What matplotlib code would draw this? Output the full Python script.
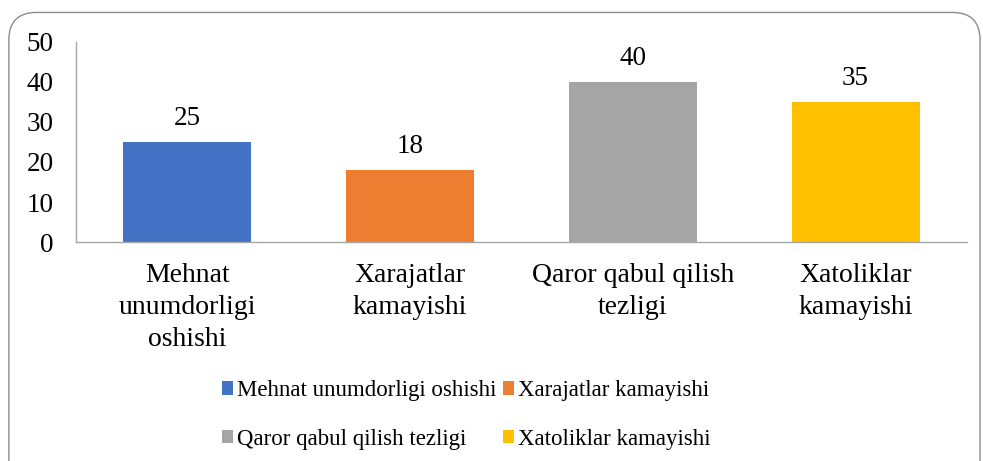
import numpy as np
import matplotlib
matplotlib.use("Agg")
from matplotlib import pyplot as plt
from matplotlib.patches import FancyBboxPatch, Patch

plt.rcParams['font.family'] = ['Liberation Serif', 'DejaVu Serif']

# data
categories = ["Mehnat unumdorligi oshishi", "Xarajatlar kamayishi",
              "Qaror qabul qilish tezligi", "Xatoliklar kamayishi"]
tick_labels = ["Mehnat\nunumdorligi\noshishi", "Xarajatlar\nkamayishi",
               "Qaror qabul qilish\ntezligi", "Xatoliklar\nkamayishi"]
values = [25, 18, 40, 35]
colors = ["#4472C4", "#ED7D31", "#A5A5A5", "#FFC000"]

fig = plt.figure(figsize=(9.83, 4.61), dpi=100)

# rounded chart border
border = FancyBboxPatch((0.009, -0.1), 0.988, 1.073,
                        boxstyle="round,pad=0,rounding_size=0.028",
                        transform=fig.transFigure, facecolor="none",
                        edgecolor="#8c8c8c", linewidth=1.0,
                        mutation_aspect=983/461, zorder=-1)
fig.patches.append(border)

ax = fig.add_axes([0.0773, 0.475, 0.9064, 0.434])
ax.patch.set_alpha(0)
x = np.arange(len(values))
bars = ax.bar(x, values, width=0.575, color=colors)
ax.set_xlim(-0.5, len(values) - 0.5)
ax.set_ylim(0, 50)
ax.set_yticks(range(0, 51, 10))

for b, v in zip(bars, values):
    ax.annotate(str(v), (b.get_x() + b.get_width() / 2, v),
                xytext=(0, 12), textcoords="offset points",
                ha="center", va="baseline", fontsize=19.5)

ax.set_xticks(x)
ax.set_xticklabels(tick_labels, fontsize=20, linespacing=1.38)
ax.tick_params(axis="y", labelsize=19.5, length=0, pad=16)
ax.tick_params(axis="x", length=0, pad=15)

for s in ["top", "right"]:
    ax.spines[s].set_visible(False)
ax.spines["left"].set_color("#a6a6a6")
ax.spines["bottom"].set_color("#a6a6a6")
ax.spines["left"].set_linewidth(1.0)
ax.spines["bottom"].set_linewidth(1.0)

# legend filled row by row
order = [0, 2, 1, 3]
handles = [Patch(facecolor=colors[i], label=categories[i]) for i in order]
fig.legend(handles=handles, ncol=2, loc="center", bbox_to_anchor=(0.474, 0.1),
           frameon=False, fontsize=16.5, handlelength=0.5, handleheight=0.5,
           handletextpad=0.15, columnspacing=0.3, labelspacing=1.2)

fig.savefig("out.png", dpi=100)
